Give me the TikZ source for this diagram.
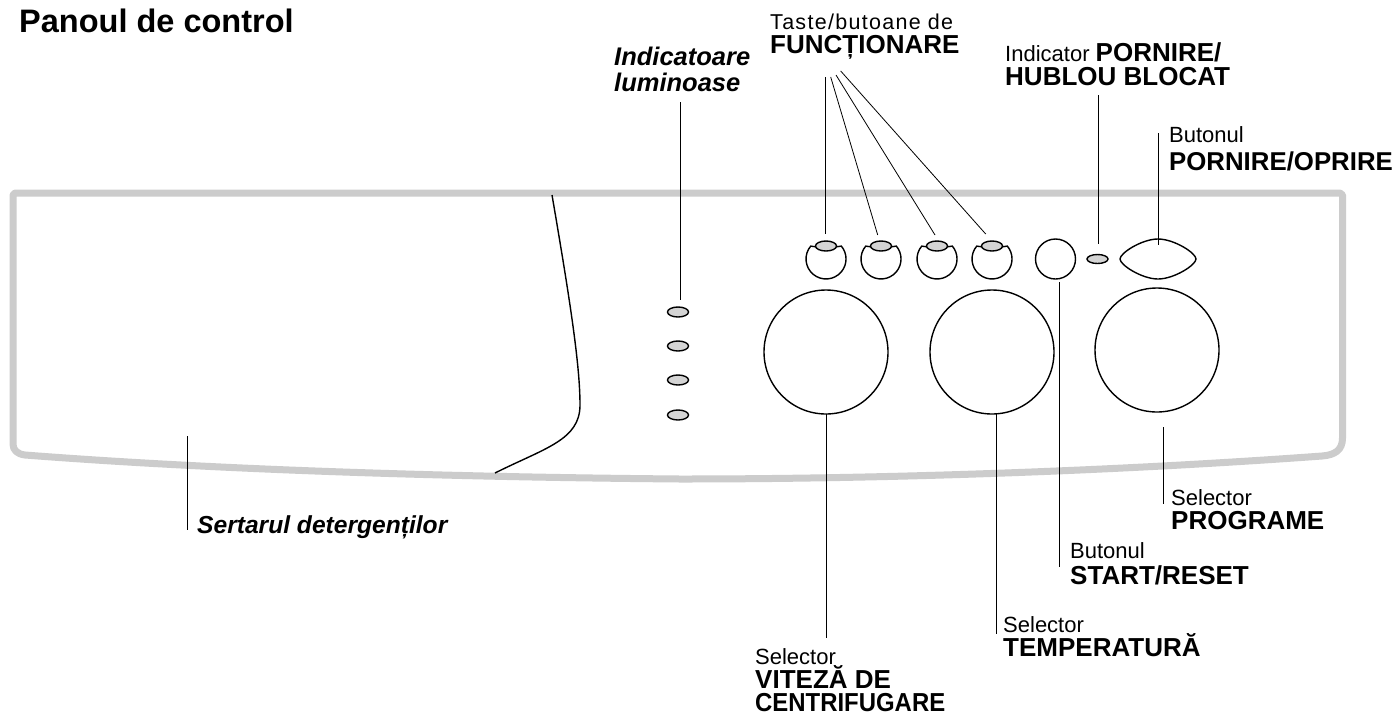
\documentclass[tikz,border=0pt]{standalone}
\usepackage{fontspec}
\setmainfont{Liberation Sans}
\usetikzlibrary{shapes.geometric}
\newcommand{\reg}{\fontsize{22}{24}\selectfont}
\newcommand{\bld}{\fontsize{26}{28}\selectfont\bfseries}
\newcommand{\ita}{\fontsize{25.5}{28}\selectfont\bfseries\itshape}
\tikzset{
  frameline/.style={draw=black!20,line width=7pt,line join=round},
  shapeline/.style={draw=black,line width=1.4pt},
  lead/.style={draw=black,line width=0.8pt},
  lamp/.style={ellipse,draw=black,line width=1.4pt,fill=black!17,minimum width=21pt,minimum height=10pt,inner sep=0pt},
  knob/.style={circle,draw=black,line width=1.4pt,minimum size=124pt,inner sep=0pt},
  lbl/.style={anchor=base west,inner sep=0pt,align=left,text=black},
}
\begin{document}
\begin{tikzpicture}[x=1pt,y=-1pt]
\useasboundingbox (0,0) rectangle (1395,713);
\fill[white] (0,0) rectangle (1395,713);
% frame
\draw[frameline] (15,193) -- (1340,193) -- (1342.5,195)
  -- (1342.5,438) .. controls (1342.5,450) and (1335,455) .. (1322,456)
  .. controls (1130,470) and (900,479) .. (680,479)
  .. controls (450,477) and (220,470) .. (25,455)
  .. controls (17,454) and (13,450) .. (13,444) -- (13,195) -- cycle;
% drawer
\draw[shapeline] (552,195) .. controls (570,300) and (580,365) .. (580,405)
  .. controls (580,440) and (545,448) .. (495,473);
% lamps
\foreach \n/\y in {a/312,b/346,c/380,d/415} \node[lamp] (L\n) at (678,\y) {};
% knobs
\node[knob] (spin) at (826,352) {};
\node[knob] (temp) at (992,352) {};
\node[knob] (prog) at (1157,350) {};
% function buttons
\foreach \n/\x in {1/826,2/881,3/937,4/992}{
  \draw[shapeline] (\x-9,247) -- (\x-15.3,246.1) arc[start angle=220,end angle=-40,radius=20] -- (\x+9,247);
  \node[lamp] (k\n) at (\x,246) {};
}
\node[circle,draw=black,line width=1.4pt,minimum size=40pt,inner sep=0pt] (start) at (1055.5,259) {};
\node[lamp,minimum height=9pt] (door) at (1097.5,259) {};
\draw[shapeline] (1120,259) .. controls (1120,253) and (1142,239) .. (1158,239)
  .. controls (1174,239) and (1196,253) .. (1196,259)
  .. controls (1196,265) and (1174,279) .. (1158,279)
  .. controls (1142,279) and (1120,265) .. (1120,259) -- cycle;
\coordinate (power) at (1158,245);
% labels
\node[lbl,font=\fontsize{32.5}{34}\selectfont\bfseries] (title) at (19,32) {Panoul de control};
\node[lbl] (tf) at (770,29) {\fontsize{21.5}{23}\selectfont\addfontfeature{LetterSpace=6}Taste/butoane de};
\node[lbl] (tf2) at (770,53) {\bld FUNCȚIONARE};
\node[lbl] (ti) at (614,65) {\ita Indicatoare};
\node[lbl] (ti2) at (614,91) {\ita luminoase};
\node[lbl] (td) at (1005,61) {\reg Indicator {\bld PORNIRE/}};
\node[lbl] (td2) at (1005,85) {\bld HUBLOU BLOCAT};
\node[lbl] (tp) at (1169,142) {\reg Butonul};
\node[lbl] (tp2) at (1169,170) {\fontsize{25.8}{28}\selectfont\bfseries PORNIRE/OPRIRE};
\node[lbl] (ts) at (197,533) {\fontsize{24.6}{28}\selectfont\bfseries\itshape Sertarul detergenților};
\node[lbl] (tg) at (1171,505) {\reg Selector};
\node[lbl] (tg2) at (1171,529) {\bld PROGRAME};
\node[lbl] (tr) at (1070,558) {\reg Butonul};
\node[lbl] (tr2) at (1070,584) {\bld START/RESET};
\node[lbl] (tt) at (1003,632) {\reg Selector};
\node[lbl] (tt2) at (1003,656) {\bld TEMPERATURĂ};
\node[lbl] (tv) at (755,664) {\reg Selector};
\node[lbl] (tv2) at (755,688) {\bld VITEZĂ DE};
\node[lbl] (tv3) at (755,711) {\scalebox{0.92}[1]{\bld CENTRIFUGARE}};
% leader ends
\coordinate (e1) at (825,77);   \coordinate (f1) at (825,234);
\coordinate (e2) at (830.7,77); \coordinate (f2) at (877.7,235);
\coordinate (e3) at (836,75);   \coordinate (f3) at (935,235);
\coordinate (e4) at (840.7,71); \coordinate (f4) at (985.7,234);
\foreach \i in {1,2,3,4} \draw[lead] (e\i) -- (f\i);
\coordinate (li1) at (680,102); \coordinate (li2) at (680,300);
\draw[lead] (li1) -- (li2);
\coordinate (ld1) at (1098.5,95); \coordinate (ld2) at (1098.5,244);
\draw[lead] (ld1) -- (ld2);
\coordinate (lp1) at (1158,133);
\draw[lead] (lp1) -- (power);
\coordinate (ls1) at (187,436); \coordinate (ls2) at (187,530);
\draw[lead] (ls1) -- (ls2);
\coordinate (lv1) at (826,414); \coordinate (lv2) at (826,638);
\draw[lead] (lv1) -- (lv2);
\coordinate (lt1) at (996.5,414); \coordinate (lt2) at (996.5,634);
\draw[lead] (lt1) -- (lt2);
\coordinate (lg1) at (1163,427); \coordinate (lg2) at (1163,504);
\draw[lead] (lg1) -- (lg2);
\coordinate (lr1) at (1059,282); \coordinate (lr2) at (1059,567);
\draw[lead] (lr1) -- (lr2);
\end{tikzpicture}
\end{document}
